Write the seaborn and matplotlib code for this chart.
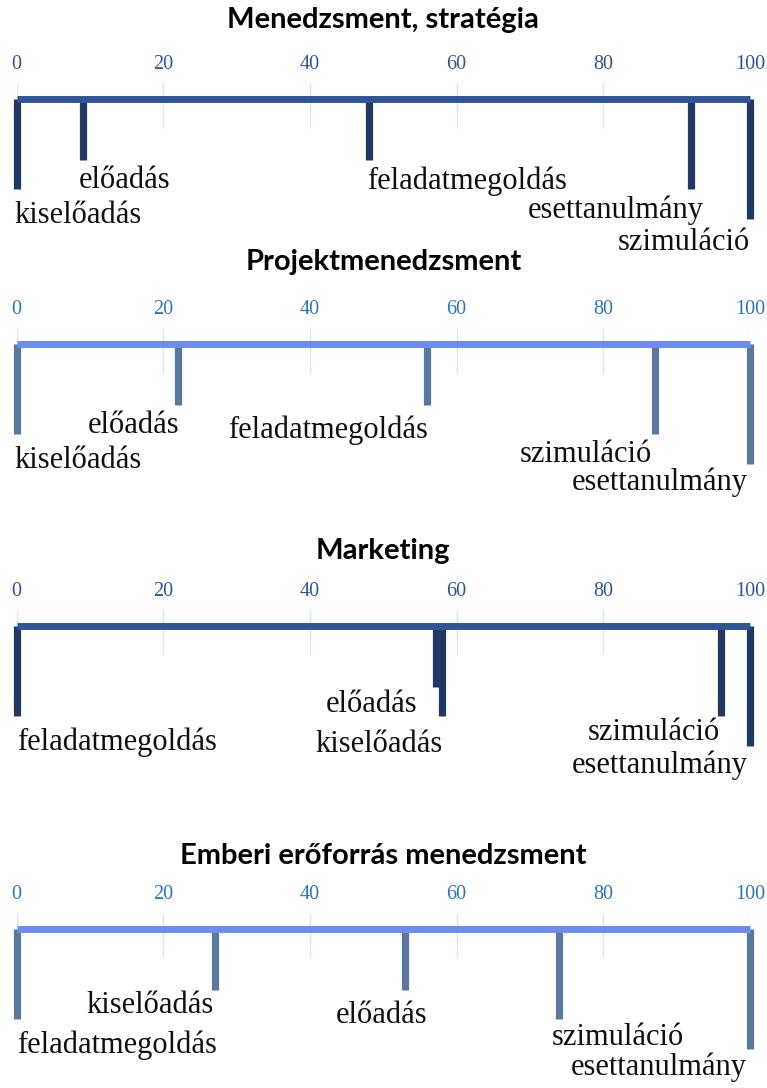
import matplotlib
matplotlib.use("Agg")
import matplotlib.pyplot as plt
import seaborn as sns

# ---- data ----
titles = [
    "Menedzsment, stratégia",
    "Projektmenedzsment",
    "Marketing",
    "Emberi erőforrás menedzsment",
]

mgmt_methods = ["kiselőadás", "előadás", "feladatmegoldás", "esettanulmány", "szimuláció"]
mgmt_scores = [0, 9, 48, 92, 100]

proj_methods = ["kiselőadás", "előadás", "feladatmegoldás", "szimuláció", "esettanulmány"]
proj_scores = [0, 22, 56, 87, 100]

mkt_methods = ["feladatmegoldás", "előadás", "kiselőadás", "szimuláció", "esettanulmány"]
mkt_scores = [0, 57.2, 58, 96, 100]

hr_methods = ["feladatmegoldás", "kiselőadás", "előadás", "szimuláció", "esettanulmány"]
hr_scores = [0, 27, 53, 74, 100]

tick_values = [0, 20, 40, 60, 80, 100]

# ---- layout (pixels, figure is drawn at 100 dpi) ----
W, H = 767, 1088
x0_px, x100_px = 16.7, 750
line_y_px = [99, 344, 626, 929]
title_dy = [-79, -82, -75, -73]
level_px = {1: 61, 2: 90, 3: 120}

layouts = [
    dict(levels=[2, 1, 1, 2, 3], ha=["left", "left", "left", "right", "right"],
         dx=[-2, -3.5, -2, 12, 0], base=[124, 89, 90, 119, 151]),
    dict(levels=[2, 1, 1, 2, 3], ha=["left", "right", "right", "right", "right"],
         dx=[-2, 1, 1, -3, -2], base=[124, 89, 94, 118, 146]),
    dict(levels=[2, 1, 2, 2, 3], ha=["left", "right", "right", "right", "right"],
         dx=[0, -19, 1, -1, -2], base=[124, 86, 126, 114, 147]),
    dict(levels=[2, 1, 1, 2, 3], ha=["left", "right", "right", "left", "right"],
         dx=[0, -1, 22, -7.5, -3], base=[124, 84, 94, 116, 146]),
]

dark = dict(line="#2F5597", stem="#203864", tick="#2F5597")
light = dict(line="#6E8CF0", stem="#5B79A0", tick="#2E75B6")
styles = [dark, light, dark, light]
grid_color = "#DAE3F3"

sns.set_theme(style="white")
plt.rcParams["font.family"] = ["Liberation Serif", "DejaVu Serif"]

fig = plt.figure(figsize=(W / 100, H / 100), dpi=100)

panels = [
    (mgmt_methods, mgmt_scores),
    (proj_methods, proj_scores),
    (mkt_methods, mkt_scores),
    (hr_methods, hr_scores),
]

top_px, bottom_px = -20, 155
px_per_unit = (x100_px - x0_px) / 100

for i, ((methods, scores), lay, st) in enumerate(zip(panels, layouts, styles)):
    ly = line_y_px[i]
    ax = fig.add_axes([x0_px / W, 1 - (ly + bottom_px) / H,
                       (x100_px - x0_px) / W, (bottom_px - top_px) / H])
    ax.set_xlim(0, 100)
    ax.set_ylim(bottom_px, top_px)
    sns.despine(ax=ax, left=True, bottom=True, top=True, right=True)
    ax.set_yticks([])
    ax.xaxis.tick_top()
    ax.set_xticks(tick_values)
    ax.set_xticklabels([str(t) for t in tick_values])
    ax.tick_params(axis="x", length=0, pad=3.5, labelsize=14.5, labelcolor=st["tick"])
    for lab in ax.get_xticklabels():
        lab.set_fontfamily("Liberation Serif")
    ax.patch.set_alpha(0)

    # faint gridlines
    ax.vlines(tick_values, -16, 29, color=grid_color, lw=1, zorder=0)

    # stems
    ends = [level_px[l] for l in lay["levels"]]
    ax.vlines(scores, 0, ends, color=st["stem"], lw=5.2, zorder=2, clip_on=False)
    # main axis line
    ax.hlines(0, 0, 100, color=st["line"], lw=5, zorder=3, clip_on=False)

    # labels
    for m, s, ha, dx, b in zip(methods, scores, lay["ha"], lay["dx"], lay["base"]):
        ax.text(s + dx / px_per_unit, b, m, ha=ha, va="baseline",
                fontsize=22, color="#111111", clip_on=False)

    ax.text(50, title_dy[i], titles[i], ha="center", va="center",
            fontsize=21, fontweight="bold", family=["Lato", "DejaVu Sans"],
            color="black", clip_on=False)

fig.savefig("out.png", dpi=100)
